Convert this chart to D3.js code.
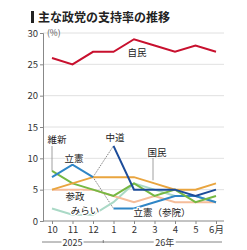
<!DOCTYPE html>
<html><head><meta charset="utf-8">
<script src="https://cdn.jsdelivr.net/npm/d3@7"></script>
<style>body{margin:0;background:#fff}svg{display:block;font-family:"Noto Sans CJK JP","Noto Sans",sans-serif}</style>
</head><body><svg id="c" width="247" height="250"></svg>
<script>
const months = ["10","11","12","1","2","3","4","5","6"];
const monthLabels = ["10","11","12","1","2","3","4","5","6月"];
const yTicks = [0,5,10,15,20,25,30];
const jimin = [26,25,27,27,29,28,27,28,27];
const rikken = [7,9,7,null,null,null,null,null,null];
const chudo = [null,null,null,12,5,5,5,4,5];
const rikkenSanin = [null,null,null,2,2,3,4,4,3];
const kokumin = [5,6,7,7,7,6,5,5,6];
const ishin = [8,6,5,4,6,4,5,3,4];
const sansei = [5,5,5,4,3,4,3,3,3];
const mirai = [2,1,1,3,6,5,4,4,3];
const yearLabels = ["2025","26年"];

const svg = d3.select("#c");
const x = d3.scalePoint().domain(months).range([52,216]);
const y = d3.scaleLinear().domain([0,30]).range([221,33]);

// title
svg.append("rect").attr("x",31).attr("y",11).attr("width",3).attr("height",12).attr("fill","#222");
svg.append("text").attr("x",38).attr("y",21.5).attr("font-size",12).attr("font-weight","bold").attr("fill","#222").text("主な政党の支持率の推移");

// grid
svg.append("g").selectAll("line").data(yTicks.filter(d=>d>0)).join("line")
  .attr("x1",43).attr("x2",224).attr("y1",d=>y(d)).attr("y2",d=>y(d))
  .attr("stroke","#d8d8d8").attr("stroke-width",0.8);

// y axis
const ya = svg.append("g").attr("transform","translate(43,0)")
  .call(d3.axisLeft(y).tickValues(yTicks).tickSize(3).tickPadding(2));
ya.select(".domain").attr("stroke","#888");
ya.selectAll(".tick line").attr("stroke","#888");
ya.selectAll("text").attr("font-size",9.5).attr("fill","#333").attr("font-family","Noto Sans CJK JP");
svg.append("text").attr("x",47).attr("y",y(30)+3).attr("font-size",8.5).attr("fill","#555").text("(%)");

// x axis
const xa = svg.append("g").attr("transform","translate(0,221)")
  .call(d3.axisBottom(x).tickFormat((d,i)=>monthLabels[i]).tickSize(3).tickPadding(2));
xa.select(".domain").attr("d","M43,0H224").attr("stroke","#888");
xa.selectAll(".tick line").attr("stroke","#888");
xa.selectAll("text").attr("font-size",9.5).attr("fill","#333").attr("font-family","Noto Sans CJK JP");

// year bar
const yb = 242;
const mid = (x("12")+x("1"))/2;
const y1c = (x("10")+x("12"))/2, y2c = (x("1")+x("6"))/2;
svg.append("line").attr("x1",42).attr("x2",y1c-11).attr("y1",yb).attr("y2",yb).attr("stroke","#666").attr("stroke-width",0.8);
svg.append("line").attr("x1",y1c+11).attr("x2",y2c-11).attr("y1",yb).attr("y2",yb).attr("stroke","#666").attr("stroke-width",0.8);
svg.append("line").attr("x1",y2c+11).attr("x2",222).attr("y1",yb).attr("y2",yb).attr("stroke","#666").attr("stroke-width",0.8);
svg.append("line").attr("x1",mid).attr("x2",mid).attr("y1",yb-2).attr("y2",yb+1).attr("stroke","#666").attr("stroke-width",0.8);
svg.append("text").attr("x",y1c).attr("y",yb+3.5).attr("text-anchor","middle").attr("font-size",9).attr("fill","#333").text(yearLabels[0]);
svg.append("text").attr("x",y2c).attr("y",yb+3.5).attr("text-anchor","middle").attr("font-size",9).attr("fill","#333").text(yearLabels[1]);

// dotted transition lines
const dots = [[["12",7],["1",12]],[["12",7],["1",2]]];
svg.append("g").selectAll("line").data(dots).join("line")
  .attr("x1",d=>x(d[0][0])).attr("y1",d=>y(d[0][1])).attr("x2",d=>x(d[1][0])).attr("y2",d=>y(d[1][1]))
  .attr("stroke","#444").attr("stroke-width",0.7).attr("stroke-dasharray","1.2,1");

const line = d3.line().defined(d=>d.v!=null).x(d=>x(d.m)).y(d=>y(d.v));
const series = [
  {v:mirai,c:"#aad9c6"},
  {v:sansei,c:"#f5bd9a"},
  {v:rikkenSanin,c:"#2f86c6"},
  {v:ishin,c:"#76b843"},
  {v:kokumin,c:"#e9a53f"},
  {v:rikken,c:"#2f86c6"},
  {v:chudo,c:"#1c4c9a"},
  {v:jimin,c:"#c8102e"}
];
svg.append("g").selectAll("path").data(series).join("path")
  .attr("d",s=>line(months.map((m,i)=>({m,v:s.v[i]}))))
  .attr("fill","none").attr("stroke",s=>s.c).attr("stroke-width",2).attr("stroke-linejoin","miter");

// leader lines
svg.append("line").attr("x1",x("10")).attr("x2",x("10")).attr("y1",146).attr("y2",y(8)).attr("stroke","#888").attr("stroke-width",0.8);
svg.append("line").attr("x1",153).attr("x2",153).attr("y1",157).attr("y2",y(6.5)).attr("stroke","#888").attr("stroke-width",0.8);

// labels
const labels = [
  ["自民",137,56,"middle"],["維新",57,143,"middle"],["立憲",74,162,"middle"],["中道",115,141,"middle"],
  ["国民",157,156,"middle"],["参政",75,200,"middle"],["みらい",85,214,"middle"],["立憲（参院）",162,216,"middle"]
];
svg.append("g").selectAll("text").data(labels).join("text")
  .attr("x",d=>d[1]).attr("y",d=>d[2]).attr("text-anchor",d=>d[3])
  .attr("font-size",9.5).attr("fill","#222").attr("stroke","#fff").attr("stroke-width",2.5).attr("paint-order","stroke").text(d=>d[0]);
</script></body></html>
